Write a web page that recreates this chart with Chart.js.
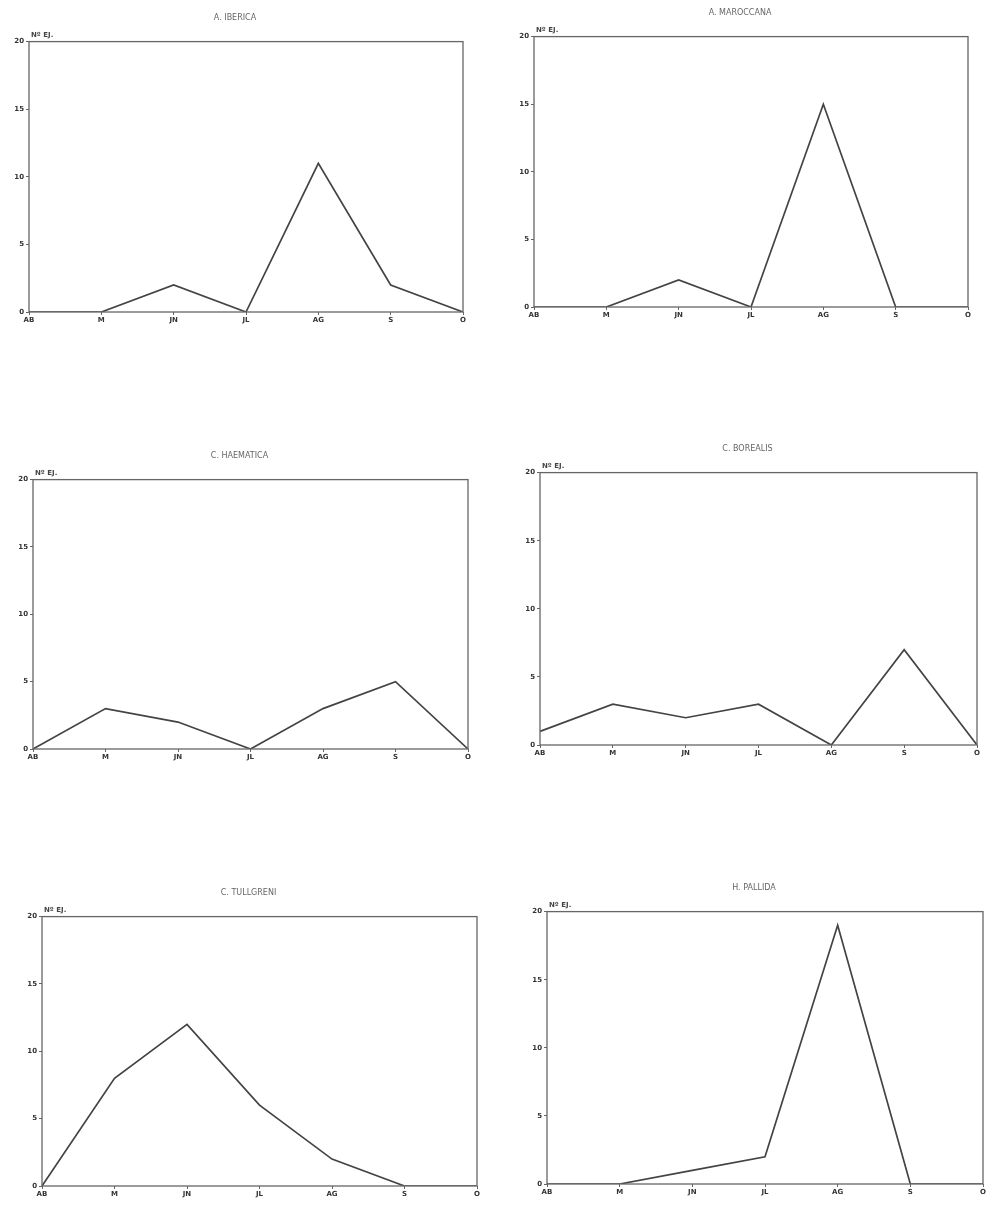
<!DOCTYPE html>
<html>
<head>
<meta charset="utf-8">
<script src="https://cdn.jsdelivr.net/npm/chart.js@4.4.0/dist/chart.umd.min.js"></script>
<style>
  html, body { margin: 0; padding: 0; background: #fff; }
  body { width: 989px; height: 1213px; position: relative; overflow: hidden; }
  .panel { position: absolute; }
</style>
</head>
<body>
<script>
// ---- DATA ----
const months = ["AB", "M", "JN", "JL", "AG", "S", "O"];
const yTicks = [0, 5, 10, 15, 20];
const yLabel = "Nº EJ.";
const titles = ["A. IBERICA", "A. MAROCCANA", "C. HAEMATICA", "C. BOREALIS", "C. TULLGRENI", "H. PALLIDA"];
const seriesA = [0, 0, 2, 0, 11, 2, 0];
const seriesB = [0, 0, 2, 0, 15, 0, 0];
const seriesC = [0, 3, 2, 0, 3, 5, 0];
const seriesD = [1, 3, 2, 3, 0, 7, 0];
const seriesE = [0, 8, 12, 6, 2, 0, 0];
const seriesF = [0, 0, 1, 2, 19, 0, 0];
const allSeries = [seriesA, seriesB, seriesC, seriesD, seriesE, seriesF];

// ---- LAYOUT (plot-area boxes) ----
const boxes = [
  {L: 29,  R: 463, T: 42,  B: 312},
  {L: 534, R: 968, T: 37,  B: 307},
  {L: 33,  R: 468, T: 480, B: 749},
  {L: 540, R: 977, T: 473, B: 745},
  {L: 42,  R: 477, T: 917, B: 1186},
  {L: 547, R: 983, T: 912, B: 1184}
];
const YW = 22, TOPH = 40, XH = 20, RP = 4;

const framePlugin = {
  id: 'frame',
  afterDraw(chart) {
    const {ctx, chartArea: a} = chart;
    ctx.save();
    ctx.strokeStyle = '#666';
    ctx.lineWidth = 1.3;
    ctx.strokeRect(a.left, a.top, a.right - a.left, a.bottom - a.top);
    ctx.fillStyle = '#444';
    ctx.font = 'bold 7px "DejaVu Sans", sans-serif';
    ctx.textAlign = 'left';
    ctx.textBaseline = 'bottom';
    ctx.fillText(yLabel, a.left + 2, a.top - 3);
    ctx.restore();
  }
};

allSeries.forEach((data, i) => {
  const b = boxes[i];
  const w = (b.R - b.L) + YW + RP;
  const h = (b.B - b.T) + TOPH + XH;
  const div = document.createElement('div');
  div.className = 'panel';
  div.style.left = (b.L - YW) + 'px';
  div.style.top = (b.T - TOPH) + 'px';
  div.style.width = w + 'px';
  div.style.height = h + 'px';
  const cv = document.createElement('canvas');
  div.appendChild(cv);
  document.body.appendChild(div);
  new Chart(cv, {
    type: 'line',
    data: {
      labels: months,
      datasets: [{
        data: data,
        borderColor: '#444',
        borderWidth: 1.7,
        pointRadius: 0,
        tension: 0,
        fill: false
      }]
    },
    options: {
      responsive: true,
      maintainAspectRatio: false,
      animation: false,
      layout: { padding: { left: 0, right: RP, top: 0, bottom: 0 } },
      plugins: {
        legend: { display: false },
        tooltip: { enabled: false },
        title: {
          display: true,
          text: titles[i],
          color: '#666',
          font: { size: 8, weight: 'normal', family: '"DejaVu Sans", sans-serif' },
          padding: { top: 11, bottom: 19 }
        }
      },
      scales: {
        x: {
          type: 'category',
          offset: false,
          afterFit(s) { s.height = XH; },
          grid: { display: true, drawOnChartArea: false, drawTicks: true, tickLength: 3, color: '#666' },
          border: { display: false },
          ticks: {
            color: '#333',
            padding: 1,
            maxRotation: 0,
            autoSkip: false,
            font: { size: 7, weight: 'bold', family: '"DejaVu Sans", sans-serif' }
          }
        },
        y: {
          min: 0, max: 20,
          afterFit(s) { s.width = YW; },
          afterBuildTicks(s) { s.ticks = yTicks.map(v => ({ value: v })); },
          grid: { display: true, drawOnChartArea: false, drawTicks: true, tickLength: 3, color: '#666' },
          border: { display: false },
          ticks: {
            color: '#333',
            padding: 2,
            font: { size: 7, weight: 'bold', family: '"DejaVu Sans", sans-serif' }
          }
        }
      }
    },
    plugins: [framePlugin]
  });
});
</script>
</body>
</html>
